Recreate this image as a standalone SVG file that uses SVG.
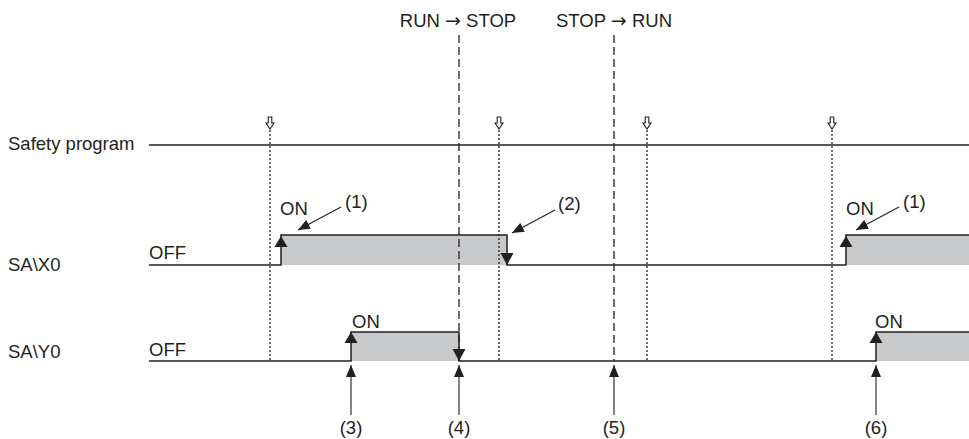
<svg xmlns="http://www.w3.org/2000/svg" width="969" height="439" viewBox="0 0 969 439">
<defs>
<style>
text{font-family:"Liberation Sans",Arial,sans-serif;font-size:18.5px;fill:#231f20}
.arr{font-family:"DejaVu Sans",sans-serif;font-size:19px}
.ln{stroke:#231f20;stroke-width:1.5;fill:none}
.thin{stroke:#231f20;stroke-width:1.1;fill:none}
.dot{stroke:#231f20;stroke-width:1.3;stroke-dasharray:2 2;fill:none}
.dash{stroke:#231f20;stroke-width:1.3;stroke-dasharray:8 4;fill:none}
.fill{fill:#c8c9ca;stroke:none}
.tri{fill:#231f20;stroke:none}
.hollow{fill:#fff;stroke:#231f20;stroke-width:1.1}
</style>
<marker id="ah" markerWidth="12" markerHeight="10" refX="12" refY="5" orient="auto" markerUnits="userSpaceOnUse">
<path d="M0,0 L12,5 L0,10 Z" fill="#231f20"/>
</marker>
<path id="hol" d="M-1.8,-12 L1.8,-12 L1.8,-6 L4,-6 L0,0 L-4,-6 L-1.8,-6 Z"/>
</defs>
<rect width="969" height="439" fill="#fff"/>

<g id="labels">
<text x="8" y="150">Safety program</text>
<text x="8" y="271">SA\X0</text>
<text x="8" y="358">SA\Y0</text>
<text x="149" y="259">OFF</text>
<text x="149" y="356">OFF</text>
<text x="458" y="27" text-anchor="middle">RUN <tspan class="arr">→</tspan> STOP</text>
<text x="614" y="27" text-anchor="middle">STOP <tspan class="arr">→</tspan> RUN</text>
</g>

<g id="fills">
<rect class="fill" x="281" y="235" width="226" height="30"/>
<rect class="fill" x="846" y="235" width="123" height="30"/>
<rect class="fill" x="351" y="332" width="108" height="29"/>
<rect class="fill" x="876" y="332" width="93" height="29"/>
</g>

<g id="scan-lines">
<line class="dot" x1="270" y1="130" x2="270" y2="361"/>
<line class="dot" x1="499" y1="130" x2="499" y2="361"/>
<line class="dot" x1="647" y1="130" x2="647" y2="361"/>
<line class="dot" x1="832" y1="130" x2="832" y2="361"/>
<use href="#hol" class="hollow" x="270" y="129"/>
<use href="#hol" class="hollow" x="499" y="129"/>
<use href="#hol" class="hollow" x="647" y="129"/>
<use href="#hol" class="hollow" x="832" y="129"/>
<line class="dash" x1="459" y1="35" x2="459" y2="361"/>
<line class="dash" x1="614" y1="35" x2="614" y2="361"/>
</g>

<g id="safety-program">
<line class="ln" x1="149" y1="145" x2="969" y2="145"/>
</g>

<g id="sa-x0">
<path class="ln" d="M149,265 H281 V235 H507 V265 H846 V235 H969"/>
<path class="tri" d="M281,236 L287.5,247 L274.5,247 Z"/>
<path class="tri" d="M507,265 L513.5,253 L500.5,253 Z"/>
<path class="tri" d="M846,236 L852.5,247 L839.5,247 Z"/>
<text x="280" y="215">ON</text>
<text x="846" y="215">ON</text>
</g>

<g id="sa-y0">
<path class="ln" d="M149,361 H351 V332 H459 V361 H876 V332 H969"/>
<path class="tri" d="M351,332 L357.5,343 L344.5,343 Z"/>
<path class="tri" d="M459,361 L465.5,349 L452.5,349 Z"/>
<path class="tri" d="M876,332 L882.5,343 L869.5,343 Z"/>
<text x="352" y="328">ON</text>
<text x="875" y="328">ON</text>
</g>

<g id="connectors">
<line class="thin" x1="341" y1="207" x2="298" y2="230" marker-end="url(#ah)"/>
<line class="thin" x1="555" y1="210" x2="512" y2="233" marker-end="url(#ah)"/>
<line class="thin" x1="899" y1="207" x2="856" y2="230" marker-end="url(#ah)"/>
<line class="thin" x1="351" y1="415" x2="351" y2="365" marker-end="url(#ah)"/>
<line class="thin" x1="459" y1="415" x2="459" y2="365" marker-end="url(#ah)"/>
<line class="thin" x1="614" y1="415" x2="614" y2="365" marker-end="url(#ah)"/>
<line class="thin" x1="876" y1="415" x2="876" y2="365" marker-end="url(#ah)"/>
</g>

<g id="callouts">
<text x="345" y="208">(1)</text>
<text x="558" y="210">(2)</text>
<text x="903" y="208">(1)</text>
<text x="351" y="434" text-anchor="middle">(3)</text>
<text x="459" y="434" text-anchor="middle">(4)</text>
<text x="614" y="434" text-anchor="middle">(5)</text>
<text x="876" y="434" text-anchor="middle">(6)</text>
</g>
</svg>
